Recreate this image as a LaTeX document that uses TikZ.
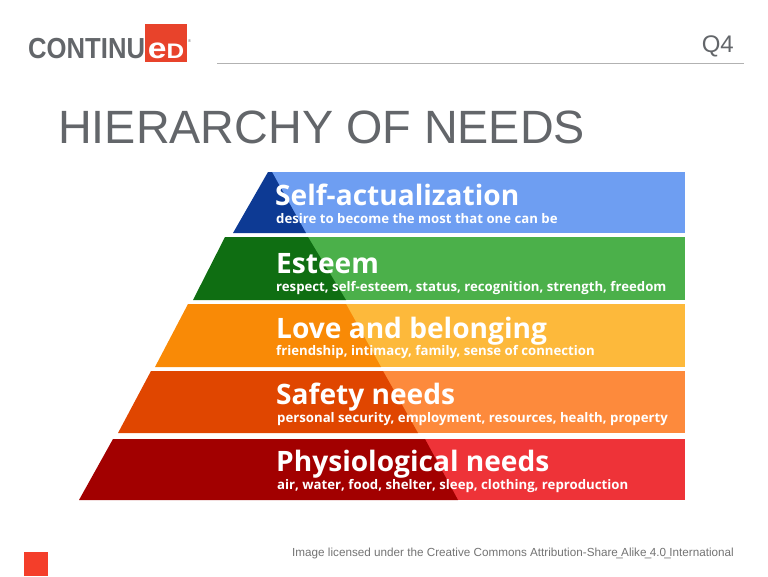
\documentclass[tikz,border=0pt]{standalone}
\usepackage{fontspec}
\usepackage{xcolor}
\setmainfont{Liberation Sans}
\newfontfamily\bandfont{Open Sans}
\definecolor{slidegray}{HTML}{63666A}
\definecolor{logored}{HTML}{E8432B}
\definecolor{cornerred}{HTML}{F43E2A}
\definecolor{darkblue}{HTML}{0D3A94}
\definecolor{lightblue}{HTML}{6E9EF2}
\definecolor{darkgreen}{HTML}{0F6E12}
\definecolor{lightgreen}{HTML}{4BB04A}
\definecolor{darkorange}{HTML}{F98A06}
\definecolor{lightorange}{HTML}{FDB93B}
\definecolor{darkrust}{HTML}{E04600}
\definecolor{lightrust}{HTML}{FD8A3C}
\definecolor{darkred}{HTML}{A20000}
\definecolor{lightred}{HTML}{EE3338}
\newcommand{\tightbar}{\makebox[0.278em][c]{\_}}
\tikzset{
  heading/.style={anchor=base west, inner sep=0pt, text=white, font=\bandfont\bfseries\fontsize{28.1}{28}\selectfont},
  subheading/.style={anchor=base west, inner sep=0pt, text=white, font=\bandfont\bfseries\fontsize{13.2}{14}\selectfont},
}
\begin{document}
\begin{tikzpicture}[x=1pt, y=-1pt]
    \useasboundingbox (0,0) rectangle (768,576);

    % header
    \node (brand) [anchor=base west, inner sep=0pt, text=slidegray, font=\fontsize{29}{29}\selectfont\bfseries] at (28,58) {\scalebox{0.885}[1]{CONTINU}};
    \fill[logored] (145,24) rectangle (187,62);
    \node (ed) [anchor=base, inner sep=0pt, text=white, font=\bfseries] at (166,58) {\scalebox{1.16}[1]{\fontsize{29}{29}\selectfont e\fontsize{21}{21}\selectfont D}};
    \node (mark) [anchor=base west, inner sep=0pt, text=slidegray, font=\fontsize{4}{4}\selectfont] at (188,42) {®};
    \node (quarter) [anchor=base east, inner sep=0pt, text=slidegray, font=\fontsize{24}{24}\selectfont] at (734,52) {Q4};
    \coordinate (rulestart) at (217,63);
    \coordinate (ruleend) at (744,63);
    \draw[black!30, line width=0.8pt] (rulestart) -- (ruleend);
    \node (title) [anchor=base west, inner sep=0pt, text=slidegray, font=\fontsize{46.7}{48}\selectfont] at (58,143) {HIERARCHY OF NEEDS};

    % light parts of the bands
    \fill[lightblue] (272,172) rectangle (685,233);
    \fill[lightgreen] (306,237) rectangle (685,300);
    \fill[lightorange] (344,304) rectangle (685,367);
    \fill[lightrust] (382,371) rectangle (685,433);
    \fill[lightred] (420,439) rectangle (685,500);

    % dark parts of the bands
    \fill[darkblue] (268,172) -- (272,172) -- (306,233) -- (233,233) -- cycle;
    \fill[darkgreen] (225,237) -- (308,237) -- (346,300) -- (193,300) -- cycle;
    \fill[darkorange] (188,304) -- (346,304) -- (381,367) -- (155,367) -- cycle;
    \fill[darkrust] (151,371) -- (383,371) -- (418,433) -- (118,433) -- cycle;
    \fill[darkred] (113,439) -- (425,439) -- (458,500) -- (79,500) -- cycle;

    % labels
    \node (selfhead) [heading] at (275,205) {Self-actualization};
    \node (selfsub) [subheading] at (276,223) {desire to become the most that one can be};
    \node (esteemhead) [heading] at (276,273) {Esteem};
    \node (esteemsub) [subheading] at (276,291) {respect, self-esteem, status, recognition, strength, freedom};
    \node (lovehead) [heading] at (276,338) {Love and belonging};
    \node (lovesub) [subheading] at (276,355) {friendship, intimacy, family, sense of connection};
    \node (safetyhead) [heading] at (276,404) {Safety needs};
    \node (safetysub) [subheading] at (277,422) {personal security, employment, resources, health, property};
    \node (physiohead) [heading] at (276,471) {Physiological needs};
    \node (physiosub) [subheading] at (277,489) {air, water, food, shelter, sleep, clothing, reproduction};

    % footer
    \fill[cornerred] (24,552) rectangle (48,576);
    \node (credit) [anchor=base west, inner sep=0pt, text=black!55, font=\fontsize{11.7}{12}\selectfont] at (292,556) {Image licensed under the Creative Commons Attribution-Share\tightbar Alike\tightbar 4.0\tightbar International};
\end{tikzpicture}
\end{document}
